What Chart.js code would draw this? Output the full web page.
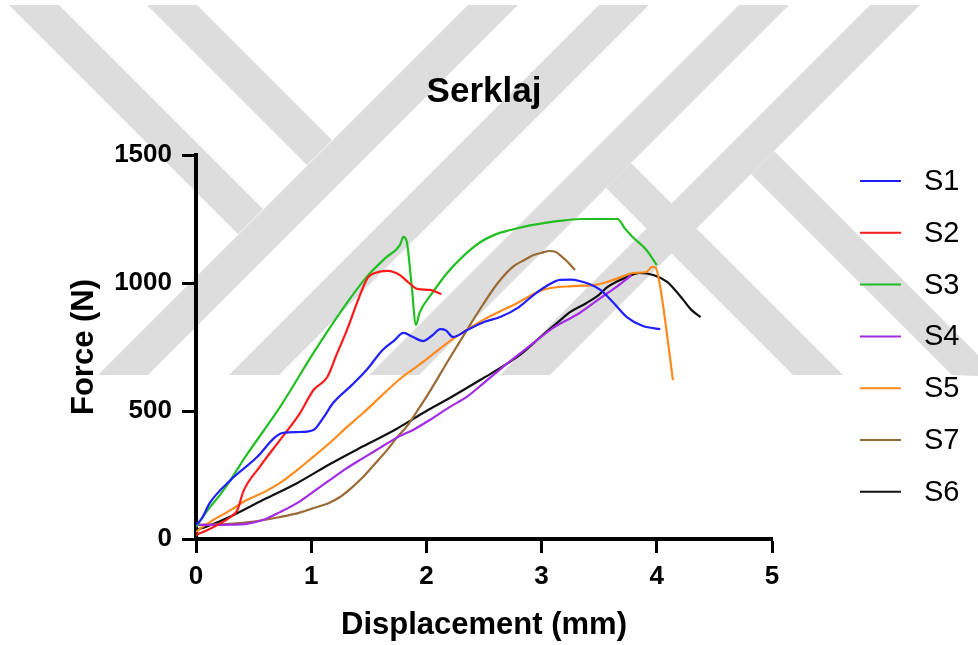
<!DOCTYPE html>
<html>
<head>
<meta charset="utf-8">
<script src="https://cdn.jsdelivr.net/npm/chart.js@4"></script>
<style>
  html, body { margin: 0; padding: 0; background: #fff; }
  #wrap { width: 978px; height: 645px; position: relative; }
</style>
</head>
<body>
<div id="wrap"><canvas id="serklajChart"></canvas></div>
<script>
// --- data (displacement in mm, force in N) ---
const s1X = [0, 0.05, 0.12, 0.3, 0.53, 0.68, 0.75, 0.9, 1.02, 1.1, 1.19, 1.35, 1.48, 1.62, 1.72, 1.8, 1.88, 1.97, 2.05, 2.12, 2.17, 2.23, 2.35, 2.5, 2.64, 2.8, 2.93, 3.05, 3.16, 3.25, 3.33, 3.42, 3.51, 3.62, 3.74, 3.88, 4.03];
const s1Y = [55, 80, 141, 230, 320, 395, 414, 418, 426, 470, 531, 600, 660, 738, 775, 805, 790, 773, 795, 820, 815, 789, 815, 848, 867, 905, 953, 990, 1012, 1013, 1008, 995, 973, 925, 867, 832, 820];

const s2X = [0, 0.1, 0.2, 0.3, 0.36, 0.41, 0.55, 0.73, 0.9, 1.02, 1.14, 1.22, 1.31, 1.4, 1.49, 1.56, 1.66, 1.72, 1.77, 1.85, 1.92, 2.03, 2.13];
const s2Y = [16, 35, 58, 86, 113, 185, 280, 387, 490, 582, 633, 720, 816, 925, 1020, 1040, 1047, 1042, 1031, 1000, 977, 973, 957];

const s3X = [0, 0.1, 0.23, 0.45, 0.73, 1.02, 1.31, 1.48, 1.65, 1.77, 1.8, 1.83, 1.87, 1.91, 1.94, 2.05, 2.18, 2.32, 2.47, 2.6, 2.73, 2.9, 3.07, 3.2, 3.36, 3.5, 3.66, 3.72, 3.79, 3.91, 4.0];
const s3Y = [47, 112, 185, 335, 516, 727, 922, 1023, 1100, 1148, 1180, 1160, 1000, 836, 883, 960, 1039, 1105, 1160, 1190, 1207, 1225, 1238, 1245, 1250, 1250, 1250, 1215, 1180, 1129, 1070];

const s4X = [0, 0.15, 0.3, 0.44, 0.58, 0.73, 0.88, 1.02, 1.16, 1.3, 1.45, 1.6, 1.74, 1.9, 2.03, 2.2, 2.35, 2.5, 2.7, 2.93, 3.1, 3.33, 3.51, 3.65, 3.78];
const s4Y = [55, 55, 56, 59, 74, 105, 141, 185, 230, 274, 316, 357, 395, 430, 465, 515, 555, 610, 685, 766, 825, 883, 941, 985, 1031];

const s5X = [0, 0.05, 0.15, 0.3, 0.44, 0.6, 0.73, 0.88, 1.02, 1.16, 1.3, 1.45, 1.6, 1.77, 1.88, 2.0, 2.23, 2.49, 2.79, 3.01, 3.27, 3.45, 3.57, 3.7, 3.79, 3.91, 3.96, 3.99, 4.03, 4.14];
const s5Y = [27, 45, 74, 113, 152, 185, 219, 270, 322, 375, 433, 492, 555, 625, 662, 702, 782, 855, 922, 973, 988, 992, 1004, 1025, 1039, 1043, 1063, 1060, 984, 621];

const s7X = [0, 0.3, 0.5, 0.73, 0.9, 1.02, 1.15, 1.25, 1.35, 1.45, 1.55, 1.66, 1.75, 1.83, 1.92, 2.0, 2.2, 2.35, 2.49, 2.62, 2.75, 2.85, 2.93, 3.0, 3.07, 3.12, 3.16, 3.22, 3.29];
const s7Y = [55, 59, 68, 86, 103, 121, 140, 164, 200, 242, 292, 348, 400, 440, 500, 555, 705, 815, 915, 1000, 1063, 1090, 1109, 1118, 1125, 1122, 1109, 1085, 1051];

const s6X = [0, 0.1, 0.3, 0.58, 0.88, 1.16, 1.45, 1.74, 2.0, 2.18, 2.47, 2.8, 3.01, 3.15, 3.25, 3.39, 3.5, 3.57, 3.65, 3.74, 3.85, 3.97, 4.09, 4.16, 4.23, 4.3, 4.38];
const s6Y = [35, 50, 88, 152, 219, 292, 362, 430, 500, 545, 622, 715, 797, 850, 887, 922, 955, 984, 1005, 1023, 1039, 1031, 1004, 972, 934, 895, 867];

const seriesNames = ['S1', 'S2', 'S3', 'S4', 'S5', 'S7', 'S6'];
const seriesColors = ['#1f1fff', '#ff1a1a', '#22bf22', '#a52ae6', '#ff8a1c', '#9a6a35', '#111111'];
const seriesX = [s1X, s2X, s3X, s4X, s5X, s7X, s6X];
const seriesY = [s1Y, s2Y, s3Y, s4Y, s5Y, s7Y, s6Y];

const xTicks = [0, 1, 2, 3, 4, 5];
const yTicks = [0, 500, 1000, 1500];

const FONT = '"Liberation Sans", Arial, sans-serif';

// gray watermark stripes behind the chart
const watermark = [
    [[9, 5], [59, 5], [263, 209], [238, 234]],
    [[147, 5], [197, 5], [332, 140], [307, 165]],
    [[468, 5], [518, 5], [148, 375], [98, 375]],
    [[599, 5], [649, 5], [279, 375], [229, 375]],
    [[739, 5], [789, 5], [419, 375], [369, 375]],
    [[870, 5], [920, 5], [550, 375], [500, 375]],
    [[606, 188], [631, 163], [843, 375], [793, 375]],
    [[751, 174], [774, 151], [1000, 377], [952, 375]]
];

const backgroundPlugin = {
    id: 'background',
    beforeDraw(chart) {
        const ctx = chart.ctx;
        ctx.save();
        ctx.fillStyle = '#fff';
        ctx.fillRect(0, 0, chart.width, chart.height);
        ctx.fillStyle = '#dddddd';
        watermark.forEach(poly => {
            ctx.beginPath();
            poly.forEach(([px, py], i) => i ? ctx.lineTo(px, py) : ctx.moveTo(px, py));
            ctx.closePath();
            ctx.fill();
        });
        ctx.restore();
    }
};

// title and legend drawn on the canvas
const labelsPlugin = {
    id: 'labels',
    afterDraw(chart) {
        const ctx = chart.ctx;
        const area = chart.chartArea;
        ctx.save();
        ctx.fillStyle = '#000';
        ctx.textAlign = 'center';
        ctx.textBaseline = 'alphabetic';
        ctx.font = 'bold 35px ' + FONT;
        ctx.fillText('Serklaj', (area.left + area.right) / 2, 102);

        ctx.textAlign = 'left';
        ctx.textBaseline = 'middle';
        ctx.font = '29px ' + FONT;
        chart.data.datasets.forEach((ds, i) => {
            const y = 181 + i * 51.8;
            ctx.strokeStyle = ds.borderColor;
            ctx.lineWidth = 2;
            ctx.beginPath();
            ctx.moveTo(860, y);
            ctx.lineTo(901, y);
            ctx.stroke();
            ctx.fillText(ds.label, 924, y + 1);
        });
        ctx.restore();
    }
};

const datasets = seriesNames.map((name, i) => ({
    label: name,
    data: seriesX[i].map((x, j) => ({ x: x, y: seriesY[i][j] })),
    borderColor: seriesColors[i],
    backgroundColor: seriesColors[i],
    borderWidth: 2.2,
    pointRadius: 0,
    cubicInterpolationMode: 'monotone',
    fill: false
}));

const tickFont = { family: FONT, size: 26, weight: 'bold' };
const titleFont = { family: FONT, size: 31, weight: 'bold' };

new Chart(document.getElementById('serklajChart'), {
    type: 'line',
    data: { datasets: datasets },
    options: {
        responsive: true,
        maintainAspectRatio: false,
        animation: false,
        layout: { padding: { left: 0, right: 206, top: 155, bottom: 0 } },
        plugins: {
            legend: { display: false },
            title: { display: false },
            tooltip: { enabled: false }
        },
        scales: {
            x: {
                type: 'linear',
                min: xTicks[0],
                max: xTicks[xTicks.length - 1],
                afterBuildTicks: scale => { scale.ticks = xTicks.map(v => ({ value: v })); },
                afterFit: scale => { scale.height = 106; },
                ticks: { font: tickFont, color: '#000', padding: 8, callback: v => String(v) },
                grid: { drawOnChartArea: false, drawTicks: true, tickLength: 14, tickWidth: 3, tickColor: '#000' },
                border: { display: true, color: '#000', width: 4 },
                title: { display: true, text: 'Displacement (mm)', font: titleFont, color: '#000', padding: { top: 0, bottom: 1 } }
            },
            y: {
                type: 'linear',
                min: yTicks[0],
                max: yTicks[yTicks.length - 1],
                afterBuildTicks: scale => { scale.ticks = yTicks.map(v => ({ value: v })); },
                afterFit: scale => { scale.width = 196; },
                ticks: { font: tickFont, color: '#000', padding: 10, callback: v => String(v) },
                grid: { drawOnChartArea: false, drawTicks: true, tickLength: 14, tickWidth: 3, tickColor: '#000' },
                border: { display: true, color: '#000', width: 4 },
                title: { display: true, text: 'Force (N)', font: titleFont, color: '#000', padding: { top: 66, bottom: 0 } }
            }
        }
    },
    plugins: [backgroundPlugin, labelsPlugin]
});
</script>
</body>
</html>
